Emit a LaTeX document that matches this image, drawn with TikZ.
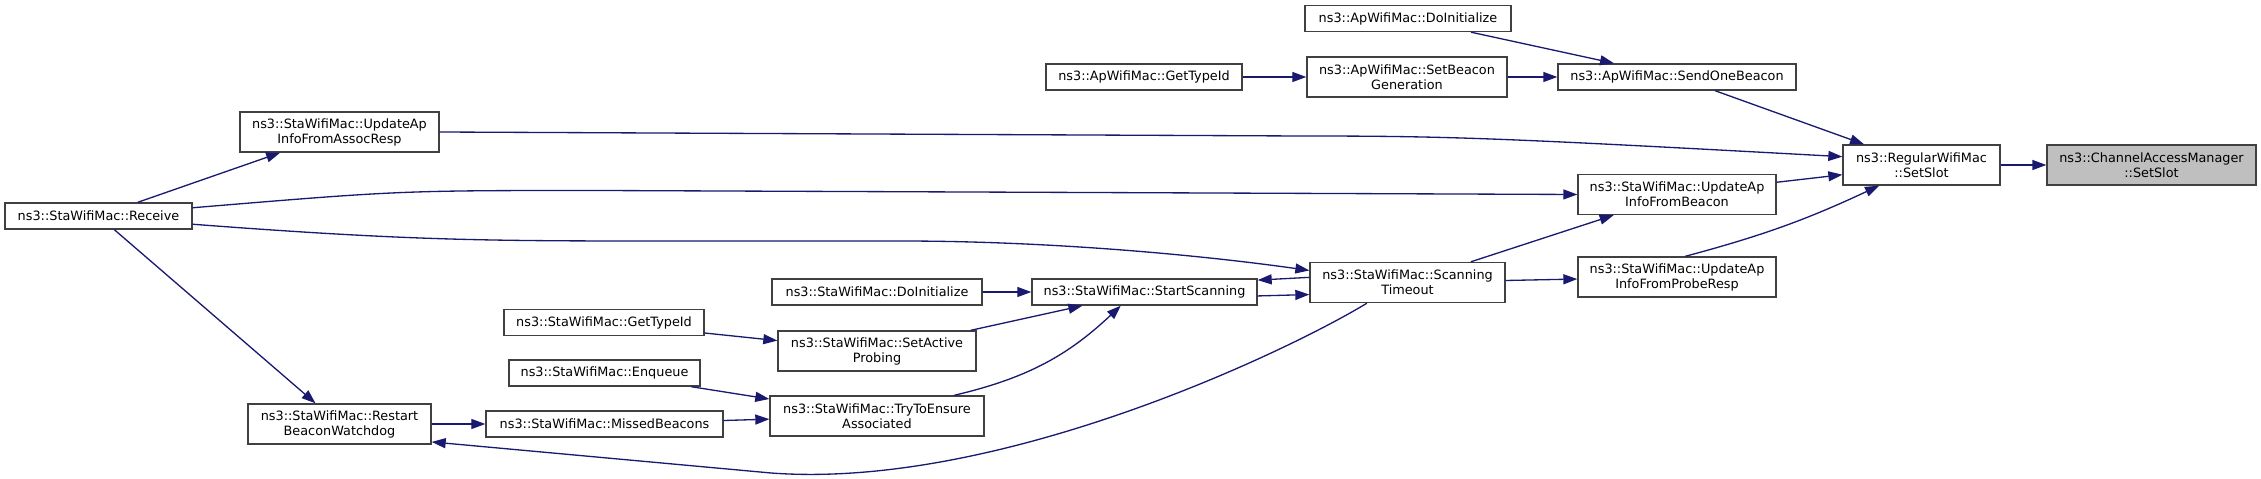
\documentclass[tikz,border=0pt]{standalone}
\usepackage{fontspec}
\setmainfont{DejaVu Sans}
\usepackage{tikz}
\usetikzlibrary{arrows.meta}
\definecolor{edgeblue}{HTML}{191970}

\begin{document}
\begin{tikzpicture}[x=0.02cm, y=-0.02cm,
  fn/.style={draw=black!75, fill=white, line width=0.8pt, minimum height=0.52cm,
             inner sep=1pt, font=\fontsize{7.3}{8.5}\selectfont, align=center},
  fntwo/.style={fn, minimum height=0.8cm},
  target/.style={fntwo, fill=black!25},
  call/.style={-{Triangle[length=0.28cm, width=0.2cm]}, edgeblue, line width=0.75pt}
]
  \useasboundingbox (0,0) rectangle (2261,479);

  % callees
  \node[target, minimum width=4.18cm] (cam) at (2151.5,165) {ns3::ChannelAccessManager\\::SetSlot};
  \node[fntwo, minimum width=3.14cm] (regslot) at (1921.5,165) {ns3::RegularWifiMac\\::SetSlot};

  % ApWifiMac
  \node[fn, minimum width=4.76cm] (sendbeacon) at (1677,77) {ns3::ApWifiMac::SendOneBeacon};
  \node[fn, minimum width=4.12cm] (apinit) at (1408,18.5) {ns3::ApWifiMac::DoInitialize};
  \node[fntwo, minimum width=4.0cm] (beacongen) at (1407,77) {ns3::ApWifiMac::SetBeacon\\Generation};
  \node[fn, minimum width=3.92cm] (aptypeid) at (1144,77) {ns3::ApWifiMac::GetTypeId};

  % StaWifiMac
  \node[fntwo, minimum width=3.98cm] (assocresp) at (339.5,132) {ns3::StaWifiMac::UpdateAp\\InfoFromAssocResp};
  \node[fntwo, minimum width=3.96cm] (frombeacon) at (1677,194.5) {ns3::StaWifiMac::UpdateAp\\InfoFromBeacon};
  \node[fntwo, minimum width=3.96cm] (proberesp) at (1677,277) {ns3::StaWifiMac::UpdateAp\\InfoFromProbeResp};
  \node[fntwo, minimum width=3.9cm] (scantimeout) at (1407.5,282.5) {ns3::StaWifiMac::Scanning\\Timeout};
  \node[fn, minimum width=4.5cm] (startscan) at (1144.5,292) {ns3::StaWifiMac::StartScanning};
  \node[fn, minimum width=4.2cm] (stainit) at (877,292) {ns3::StaWifiMac::DoInitialize};
  \node[fntwo, minimum width=3.96cm] (activeprobing) at (877,351) {ns3::StaWifiMac::SetActive\\Probing};
  \node[fntwo, minimum width=4.28cm] (tryassoc) at (877,416) {ns3::StaWifiMac::TryToEnsure\\Associated};
  \node[fn, minimum width=4.0cm] (statypeid) at (604,322.5) {ns3::StaWifiMac::GetTypeId};
  \node[fn, minimum width=3.82cm] (enqueue) at (604.5,373) {ns3::StaWifiMac::Enqueue};
  \node[fn, minimum width=4.74cm] (missedbeacons) at (604.5,424) {ns3::StaWifiMac::MissedBeacons};
  \node[fntwo, minimum width=3.66cm] (restartwd) at (339.5,424) {ns3::StaWifiMac::Restart\\BeaconWatchdog};
  \node[fn, minimum width=3.74cm] (receive) at (98.5,216) {ns3::StaWifiMac::Receive};

  % calls
  \draw[call] (regslot) -- (cam);
  \draw[call] (sendbeacon) -- (regslot);
  \draw[call] (assocresp.east) -- (1300,136) .. controls (1450,136) and (1500,138) .. (regslot.174);
  \draw[call] (frombeacon.7) -- (regslot.187);
  \draw[call] (proberesp.68) to[bend right=5] (regslot.206);
  \draw[call] (apinit) -- (sendbeacon);
  \draw[call] (beacongen) -- (sendbeacon);
  \draw[call] (aptypeid) -- (beacongen);
  \draw[call] (receive) -- (assocresp);
  \draw[call] (receive.5) .. controls (400,190.5) .. (600,190.5) -- (frombeacon.west);
  \draw[call] (receive.-5) .. controls (400,240) and (480,241) .. (650,241) -- (900,241)
    .. controls (1050,241) and (1200,255) .. (scantimeout.173);
  \draw[call] (receive) -- (restartwd);
  \draw[call] (scantimeout) -- (frombeacon);
  \draw[call] (scantimeout) -- (proberesp);
  \draw[call] (scantimeout.177) -- (startscan.6);
  \draw[call] (startscan.-2) -- (scantimeout.187);
  \draw[call] (scantimeout.207) .. controls (1290,350) and (1000,490) .. (771,473) -- (restartwd.-11);
  \draw[call] (stainit) -- (startscan);
  \draw[call] (activeprobing) -- (startscan);
  \draw[call] (tryassoc.15) to[bend right=15] (startscan.210);
  \draw[call] (statypeid) -- (activeprobing);
  \draw[call] (enqueue) -- (tryassoc);
  \draw[call] (missedbeacons) -- (tryassoc);
  \draw[call] (restartwd) -- (missedbeacons);
\end{tikzpicture}
\end{document}
